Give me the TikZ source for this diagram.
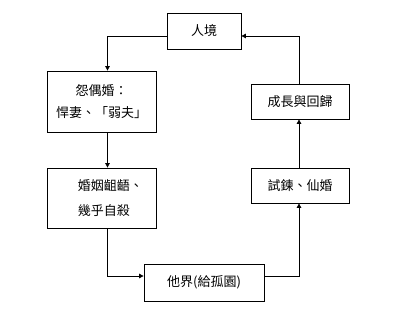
\documentclass[tikz,border=0pt]{standalone}
\usepackage{fontspec}
\usepackage{tikz}
\usetikzlibrary{positioning,arrows.meta}
\newfontfamily\cjk{Noto Sans CJK TC}

\tikzset{
  stage/.style={draw=black,line width=0.8pt,fill=white,inner sep=0pt,align=center},
  flow/.style={line width=0.8pt,-{Triangle[length=4.5pt,width=4.5pt]}}
}

\begin{document}
\begin{tikzpicture}[x=1pt,y=-1pt,font=\cjk\fontsize{13}{22}\selectfont]

  \useasboundingbox[fill=white] (0,0) rectangle (396,312);

  % ---------- boxes, round the loop ----------
  \node[stage,minimum width=74,minimum height=36] (renjing) at (204,31) {人境};
  \node[stage,minimum width=109,minimum height=61] (yuanou) at (101.5,101.5)
    {怨偶婚：\\悍妻、「弱夫」};
  \node[stage,minimum width=109,minimum height=60] (hunyin) at (101.5,198) {};
  \node[anchor=west,align=left,inner sep=0pt,font=\cjk\fontsize{13}{25}\selectfont]
    (hunyintext) at ([xshift=31]hunyin.west) {婚姻齟齬、\\幾乎自殺};
  \node[stage,minimum width=120,minimum height=37] (tajie) at (204,282.5) {他界(給孤園)};
  \node[stage,minimum width=98,minimum height=35] (shilian) at (300,185.5) {試鍊、仙婚};
  \node[stage,minimum width=98,minimum height=35] (chengzhang) at (300,101.5) {成長與回歸};

  % ---------- connectors ----------
  \draw[flow] ([yshift=-5]renjing.west) -| ([xshift=6]yuanou.north);
  \draw[flow] ([xshift=6]yuanou.south) -- ([xshift=6]hunyin.north);
  \draw[flow] ([xshift=6]hunyin.south) |- ([yshift=6.5]tajie.west);
  \draw[flow] ([yshift=6.5]tajie.east) -| ([xshift=-1]shilian.south);
  \draw[flow] ([xshift=-1]shilian.north) -- ([xshift=-1]chengzhang.south);
  \draw[flow] ([xshift=-1]chengzhang.north) |- ([yshift=-5]renjing.east);

\end{tikzpicture}
\end{document}
